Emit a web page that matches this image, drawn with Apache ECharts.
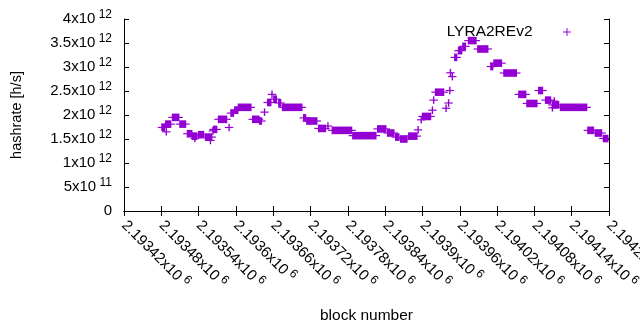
<!DOCTYPE html>
<html><head><meta charset="utf-8">
<script src="https://cdn.jsdelivr.net/npm/echarts@6/dist/echarts.min.js"></script>
<style>html,body{margin:0;padding:0;background:#fff}#c{width:640px;height:330px}</style>
</head><body><div id="c"></div>
<script>
// ---- data ----
const seriesName = 'LYRA2REv2';
// runs of consecutive blocks sharing one hashrate value (single points have start == end)
const runStart = [
  2193481, 2193488, 2193487, 2193498, 2193510, 2193522, 2193530, 2193534, 2193540, 2193551,
  2193559, 2193563, 2193564, 2193572, 2193589, 2193592, 2193598, 2193604, 2193627, 2193638,
  2193646, 2193651, 2193658, 2193661, 2193669, 2193675, 2193709, 2193714, 2193733, 2193748,
  2193755, 2193788, 2193828, 2193844, 2193857, 2193865, 2193878, 2193893, 2193898, 2193900,
  2193916, 2193918, 2193921, 2193938, 2193942, 2193944, 2193945, 2193948, 2193952, 2193958,
  2193965, 2193974, 2193989, 2194010, 2194015, 2194031, 2194055, 2194068, 2194087, 2194098,
  2194109, 2194109, 2194112, 2194122, 2194166, 2194178, 2194191
];
const runEnd = [
  2193485, 2193488, 2193495, 2193508, 2193519, 2193529, 2193537, 2193534, 2193548, 2193561,
  2193559, 2193563, 2193569, 2193585, 2193589, 2193596, 2193603, 2193624, 2193637, 2193641,
  2193646, 2193656, 2193658, 2193665, 2193672, 2193706, 2193712, 2193730, 2193744, 2193748,
  2193786, 2193825, 2193841, 2193854, 2193862, 2193875, 2193891, 2193893, 2193898, 2193913,
  2193916, 2193918, 2193934, 2193938, 2193942, 2193944, 2193945, 2193948, 2193955, 2193963,
  2193969, 2193986, 2194005, 2194013, 2194027, 2194051, 2194066, 2194084, 2194093, 2194106,
  2194119, 2194109, 2194112, 2194164, 2194175, 2194188, 2194198
];
const hashrate = [
  1.74e12, 1.65e12, 1.81e12, 1.95e12, 1.81e12, 1.61e12, 1.56e12, 1.51e12, 1.59e12, 1.54e12,
  1.47e12, 1.67e12, 1.70e12, 1.91e12, 1.74e12, 2.04e12, 2.10e12, 2.16e12, 1.91e12, 1.875e12,
  2.06e12, 2.26e12, 2.43e12, 2.33e12, 2.25e12, 2.16e12, 1.94e12, 1.875e12, 1.72e12, 1.77e12,
  1.68e12, 1.57e12, 1.71e12, 1.625e12, 1.54e12, 1.50e12, 1.56e12, 1.69e12, 1.90e12, 1.97e12,
  2.10e12, 2.31e12, 2.475e12, 2.14e12, 2.25e12, 2.51e12, 2.88e12, 2.80e12, 3.20e12, 3.34e12,
  3.43e12, 3.55e12, 3.375e12, 3.01e12, 3.08e12, 2.875e12, 2.43e12, 2.24e12, 2.51e12, 2.31e12,
  2.21e12, 2.15e12, 2.29e12, 2.16e12, 1.68e12, 1.625e12, 1.51e12
];
const xTickMantissa = ['2.19342','2.19348','2.19354','2.1936','2.19366','2.19372','2.19378',
  '2.19384','2.1939','2.19396','2.19402','2.19408','2.19414','2.1942'];
const xTickExponent = '6';
const yTickMantissa = ['0','5x10','1x10','1.5x10','2x10','2.5x10','3x10','3.5x10','4x10'];
const yTickExponent = ['','11','12','12','12','12','12','12','12'];
const xName = 'block number';
const yName = 'hashrate [h/s]';

// ---- chart ----
const COLOR = '#9400d3';
const FONT = '"Liberation Sans", Arial, sans-serif';
const X_MIN = 2193420, X_MAX = 2194200, X_STEP = 60;
const Y_MIN = 0, Y_MAX = 4e12, Y_STEP = 5e11;

const runs = runStart.map((s, i) => [s, runEnd[i], hashrate[i]]);
const rich = {
  m: { fontSize: 15, fontFamily: FONT, color: '#000', lineHeight: 21 },
  s: { fontSize: 12, fontFamily: FONT, color: '#000', lineHeight: 12, verticalAlign: 'top' }
};
const plus = 'path://M0,4.4H10V5.6H0Z M4.4,0H5.6V10H4.4Z';

const chart = echarts.init(document.getElementById('c'), null, { renderer: 'canvas' });
chart.setOption({
  animation: false,
  backgroundColor: '#fff',
  grid: { left: 124, right: 31, top: 19, bottom: 119, containLabel: false, outerBoundsMode: 'none' },
  legend: {
    data: [{ name: seriesName, icon: plus }],
    right: 69, top: 24, padding: 0,
    align: 'right', itemWidth: 59, itemHeight: 8,
    textStyle: { fontSize: 15.5, fontFamily: FONT, color: '#000' },
    selectedMode: false
  },
  xAxis: [{
    type: 'value', min: X_MIN, max: X_MAX, interval: X_STEP, position: 'bottom',
    name: xName, nameLocation: 'middle', nameGap: 97,
    nameTextStyle: { fontSize: 15.5, fontFamily: FONT, color: '#000' },
    axisLine: { show: true, lineStyle: { color: '#000', width: 1 } },
    axisTick: { show: true, inside: true, length: 5, lineStyle: { color: '#000' } },
    splitLine: { show: false },
    axisLabel: {
      rotate: -45, margin: 12, interval: 0, showMinLabel: true, showMaxLabel: true, hideOverlap: false,
      formatter: (v) => {
        const i = Math.round((v - X_MIN) / X_STEP);
        return '{m|' + xTickMantissa[i] + 'x10}{s| ' + xTickExponent + '}';
      },
      rich: rich
    }
  }, {
    type: 'value', min: X_MIN, max: X_MAX, interval: X_STEP, position: 'top',
    axisLine: { show: true, lineStyle: { color: '#000', width: 1 } },
    axisTick: { show: true, inside: true, length: 5, lineStyle: { color: '#000' } },
    axisLabel: { show: false }, splitLine: { show: false }
  }],
  yAxis: [{
    type: 'value', min: Y_MIN, max: Y_MAX, interval: Y_STEP, position: 'left',
    name: yName, nameLocation: 'middle', nameGap: 100, nameRotate: 90,
    nameTextStyle: { fontSize: 14.5, fontFamily: FONT, color: '#000' },
    axisLine: { show: true, lineStyle: { color: '#000', width: 1 } },
    axisTick: { show: true, inside: true, length: 5, lineStyle: { color: '#000' } },
    splitLine: { show: false },
    axisLabel: {
      margin: 12, showMinLabel: true, showMaxLabel: true,
      formatter: (v) => {
        const i = Math.round((v - Y_MIN) / Y_STEP);
        return yTickExponent[i] ? '{m|' + yTickMantissa[i] + '}{s| ' + yTickExponent[i] + '}' : '{m|' + yTickMantissa[i] + '}';
      },
      rich: rich
    }
  }, {
    type: 'value', min: Y_MIN, max: Y_MAX, interval: Y_STEP, position: 'right',
    axisLine: { show: true, lineStyle: { color: '#000', width: 1 } },
    axisTick: { show: true, inside: true, length: 5, lineStyle: { color: '#000' } },
    axisLabel: { show: false }, splitLine: { show: false }
  }],
  series: [{
    name: seriesName,
    type: 'custom',
    xAxisIndex: 0, yAxisIndex: 0,
    clip: true,
    itemStyle: { color: COLOR },
    encode: { x: [0, 1], y: 2 },
    data: runs,
    renderItem: (params, api) => {
      const a = api.coord([api.value(0), api.value(2)]);
      const b = api.coord([api.value(1), api.value(2)]);
      const y = a[1];
      return {
        type: 'group',
        children: [
          { type: 'rect', shape: { x: a[0] - 0.7, y: y - 3.8, width: b[0] - a[0] + 1.4, height: 7.6 },
            style: { fill: COLOR } },
          { type: 'rect', shape: { x: a[0] - 4.2, y: y - 0.6, width: b[0] - a[0] + 8.4, height: 1.2 },
            style: { fill: COLOR } }
        ]
      };
    }
  }]
});
</script>
</body></html>
